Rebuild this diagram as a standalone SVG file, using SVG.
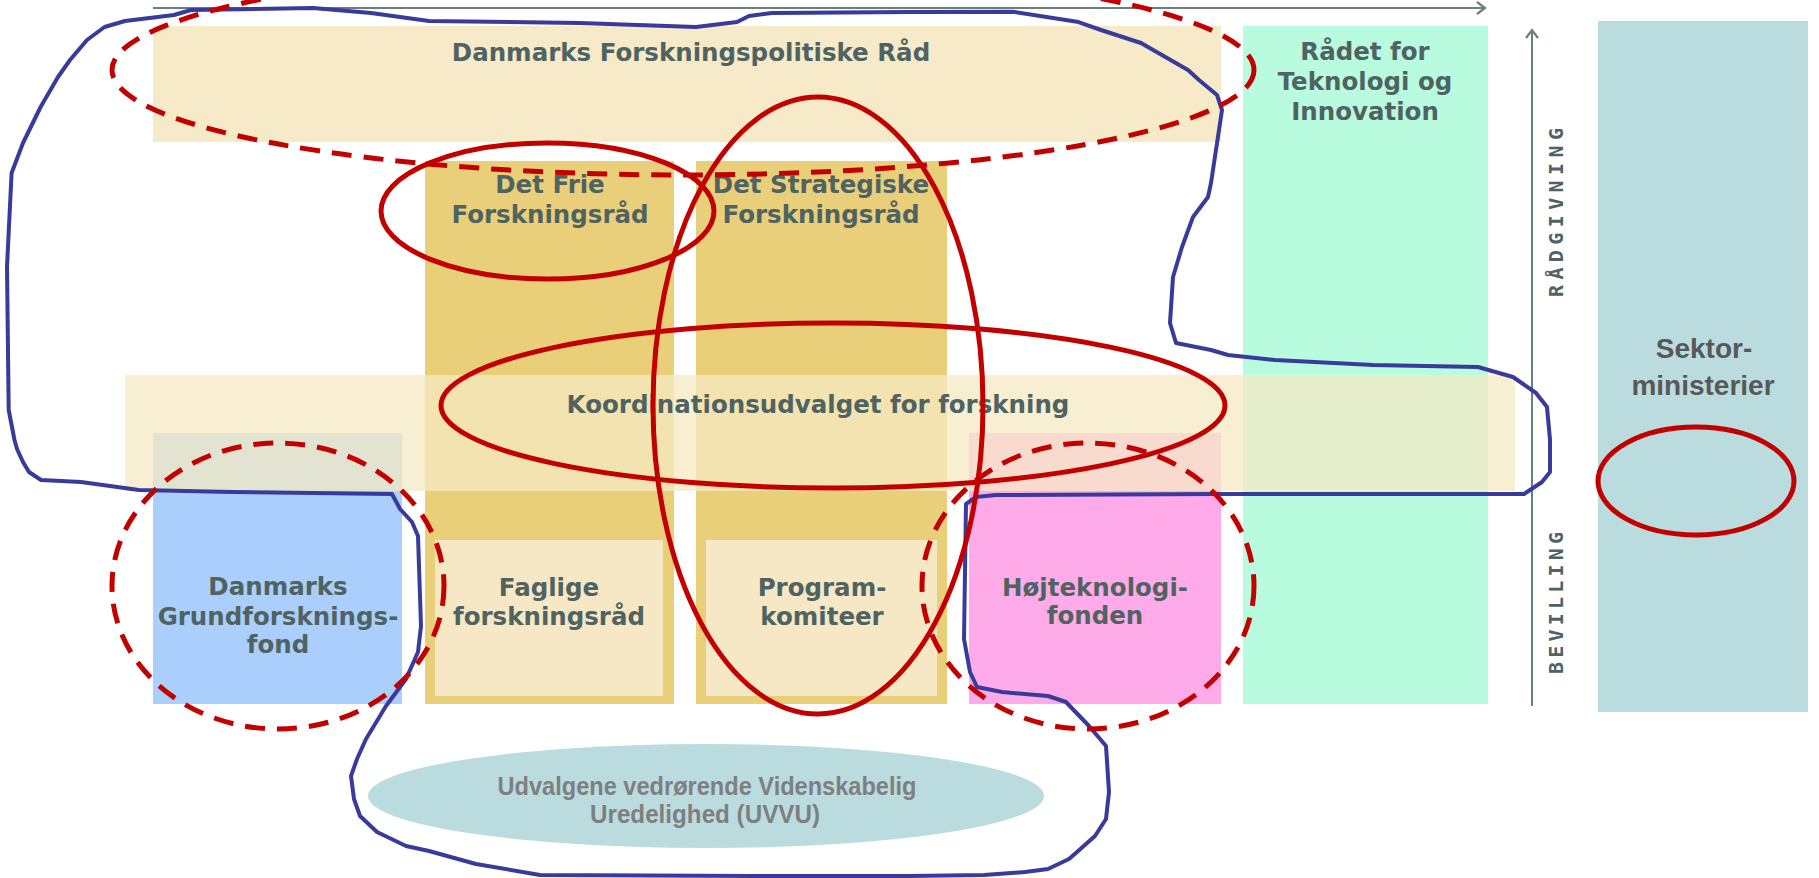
<svg xmlns="http://www.w3.org/2000/svg" width="1819" height="878" viewBox="0 0 1819 878">
<defs>
<style>
.t{font-family:"DejaVu Sans",Verdana,sans-serif;font-weight:bold;font-size:24.5px;fill:#4f6362;text-anchor:middle}
.tg{font-family:"Liberation Sans",Arial,sans-serif;font-weight:bold;text-anchor:middle}
.vt{font-family:"DejaVu Sans Mono",monospace;font-weight:bold;font-size:20px;fill:#4f6362}
.red{fill:none;stroke:#c30000;stroke-width:5}
.dash{stroke-dasharray:20 12}
.ax{fill:none;stroke:#6a817d;stroke-width:2}
</style>
<marker id="chev" markerWidth="12" markerHeight="14" refX="9" refY="7" orient="auto" markerUnits="userSpaceOnUse">
<path d="M1,1 L9,7 L1,13" fill="none" stroke="#6a817d" stroke-width="2.2"/>
</marker>
</defs>
<rect width="1819" height="878" fill="#ffffff"/>

<g id="dfr"><rect x="153" y="26" width="1068" height="116" fill="#f6eac9"/>
<text class="t" x="691" y="61">Danmarks Forskningspolitiske Råd</text></g>

<g id="rti"><rect x="1243" y="26" width="245" height="678" fill="#b8fbdf"/>
<text class="t" x="1365" y="60">Rådet for</text>
<text class="t" x="1365" y="90">Teknologi og</text>
<text class="t" x="1365" y="120">Innovation</text></g>

<g id="sektor"><rect x="1598" y="21" width="210" height="691" fill="#badcdf"/>
<text class="tg" x="1704" y="358" font-size="28" fill="#585858">Sektor-</text>
<text class="tg" x="1703" y="395" font-size="28" fill="#585858">ministerier</text></g>

<g id="dff"><rect x="425" y="161" width="249" height="543" fill="#e9cf7a"/>
<text class="t" x="550" y="193">Det Frie</text>
<text class="t" x="550" y="223">Forskningsråd</text></g>

<g id="dsf"><rect x="696" y="161" width="251" height="543" fill="#e9cf7a"/>
<text class="t" x="821" y="193">Det Strategiske</text>
<text class="t" x="821" y="223">Forskningsråd</text></g>

<g id="dg"><rect x="153" y="433" width="249" height="271" fill="#abcffc"/></g>
<g id="hoj"><rect x="969" y="433" width="252" height="271" fill="#ffabea"/></g>

<g id="faglige"><rect x="435" y="540" width="228" height="156" fill="#f6e8c4"/>
<text class="t" x="549" y="596">Faglige</text>
<text class="t" x="549" y="625">forskningsråd</text></g>

<g id="program"><rect x="706" y="540" width="231" height="156" fill="#f6e8c4"/>
<text class="t" x="822" y="596">Program-</text>
<text class="t" x="822" y="625">komiteer</text></g>

<g id="koordination"><rect x="125" y="375" width="1390" height="116" fill="#f6e9c4" fill-opacity="0.75"/>
<text class="t" x="818" y="413">Koordinationsudvalget for forskning</text></g>

<g id="dg-label">
<text class="t" x="278" y="595" font-size="23">Danmarks</text>
<text class="t" x="278" y="625" font-size="23">Grundforsknings-</text>
<text class="t" x="278" y="653" font-size="23">fond</text></g>

<g id="hoj-label">
<text class="t" x="1095" y="596">Højteknologi-</text>
<text class="t" x="1095" y="624">fonden</text></g>

<g id="uvvu"><ellipse cx="706" cy="796" rx="338" ry="52" fill="#badcdf"/>
<text class="tg" x="707" y="795" font-size="25" fill="#7f7f7f" textLength="419" lengthAdjust="spacingAndGlyphs">Udvalgene vedrørende Videnskabelig</text>
<text class="tg" x="705" y="823" font-size="25" fill="#7f7f7f" textLength="230" lengthAdjust="spacingAndGlyphs">Uredelighed (UVVU)</text></g>

<g id="axis-labels">
<text class="vt" transform="translate(1563,297) rotate(-90)" textLength="169" lengthAdjust="spacing">RÅDGIVNING</text>
<text class="vt" transform="translate(1563,674) rotate(-90)" textLength="142" lengthAdjust="spacing">BEVILLING</text></g>

<g id="connectors">
<line class="ax" x1="153" y1="8" x2="1485" y2="8" marker-end="url(#chev)"/>
<line class="ax" x1="1532" y1="706" x2="1532" y2="30" marker-end="url(#chev)"/>
</g>

<g id="annotations">
<polygon fill="none" stroke="#383a9c" stroke-width="4" stroke-linejoin="round" points="191,10 313,8 371,13 429,21 580,23 696,27 737,22 749,16 772,13 910,12 1013,11.7 1077,21.7 1101,30 1141,43 1188,70 1199,80 1217,95 1222,110 1219,130 1211,183 1208,197 1193,217 1182,247 1173,277 1170,323 1176,343 1211,350 1228,355 1275,360 1373,365 1478,367 1513,377 1536,393 1547,407 1550,440 1550,472 1542,482 1524,494 1217,494 996,495 976,497 966,504 964,639 970,672 977,687 1002,692 1048,696 1066,702 1089,726 1106,746 1109,792 1106,819 1095,836 1077,852 1069,859 1048,869 1025,872 984,875 909,876 754,876 540,875 476,864 429,851 406,846 377,832 360,816 354,799 351,776 357,759 366,739 386,706 406,679 418,652 421,626 418,536 412,522 400,509 392,494 232,492 139,490 81,482 41,480 29,472 23,462 17,449 14.5,440 8.7,410 7,267 11.6,173 23,143 40.6,107 58,77 70,60 87,40 104.5,27 125,21 174,15"/>
<ellipse class="red dash" cx="683" cy="70" rx="571" ry="105"/>
<ellipse class="red" cx="547.5" cy="211" rx="166.5" ry="68"/>
<ellipse class="red" cx="818" cy="405.5" rx="165" ry="308.5"/>
<ellipse class="red" cx="833" cy="405.5" rx="392" ry="82.5"/>
<ellipse class="red dash" cx="278" cy="586" rx="166" ry="143"/>
<ellipse class="red dash" cx="1088" cy="586" rx="166" ry="143"/>
<ellipse class="red" cx="1696" cy="481" rx="98" ry="54"/>
</g>
</svg>
